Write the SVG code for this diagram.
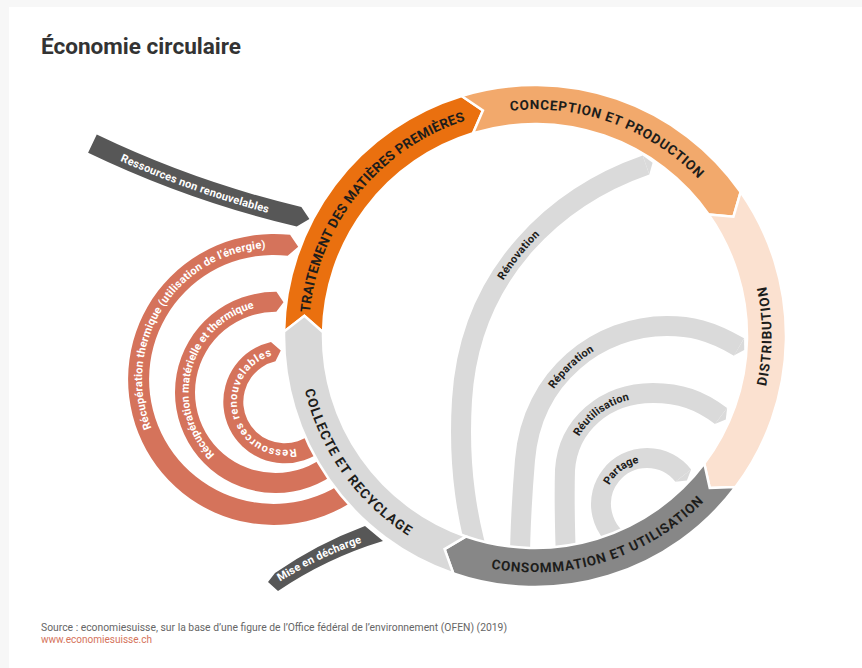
<svg xmlns="http://www.w3.org/2000/svg" width="862" height="668" viewBox="0 0 862 668">
<style>
.ring{stroke:#fff;stroke-width:2.5;stroke-linejoin:miter}
.rt{font-family:Roboto,'Liberation Sans',sans-serif;font-weight:700;font-size:13.5px;fill:#1d1d1b;letter-spacing:0.7px}
.wt{font-family:Roboto,'Liberation Sans',sans-serif;font-weight:700;font-size:11px;fill:#fff;letter-spacing:0.2px}
.lt{font-family:Roboto,'Liberation Sans',sans-serif;font-weight:700;font-size:11px;fill:#1d1d1b;letter-spacing:0.4px}
.loop{fill:none;stroke:#dadada;stroke-width:20}
.tip{fill:#dadada}
.org{fill:#d5735b}
.dark{fill:#575757}
.src{font-family:Roboto,'Liberation Sans',sans-serif;font-size:11px}
</style>
<defs>
<clipPath id="outside"><path clip-rule="evenodd" d="M0,0H862V668H0Z M535,104A232,232 0 1 0 535,568A232,232 0 1 0 535,104Z"/></clipPath>
<clipPath id="inside"><circle cx="535" cy="336" r="232"/></clipPath>
<path id="tp-trait" d="M308.53,339.95A226.5,226.5 0 0 1 491.78,113.66"/>
<path id="tp-conc" d="M457.53,123.16A226.5,226.5 0 0 1 731.16,222.75"/>
<path id="tp-dist" d="M716.17,488.02A236.5,236.5 0 0 0 716.17,183.98"/>
<path id="tp-cons" d="M444.50,554.50A236.5,236.5 0 0 0 734.46,463.07"/>
<path id="tp-coll" d="M299.23,317.44A236.5,236.5 0 0 0 475.79,564.97"/>
<path id="tp-o1" d="M171.41,462.16A131.5,131.5 0 0 1 298.69,250.32"/>
<path id="tp-o2" d="M240.91,472.18A87,87 0 0 1 280.91,305.56"/>
<path id="tp-o3" d="M308.8,443.37A48,48 0 1 1 286.48,353.83"/>
<path id="tp-res" d="M109.6,156.07A1021,1021 0 0 0 279.09,215.92"/>
<path id="tp-mise" d="M269.18,588.66A394,394 0 0 1 374.31,538.52"/>
<path id="tp-reno" d="M462,400C470,270 560,195 646,165"/>
<path id="tp-repa" d="M525,460C532,375 600,326 667,326"/>
<path id="tp-reut" d="M565,470C568,425 605,393 653,393"/>
<path id="tp-part" d="M601.06,501.59A46,46 0 0 1 657.35,459.18"/>
</defs>

<rect x="0" y="0" width="862" height="668" fill="#f7f7f7"/>
<rect x="9" y="7" width="853" height="661" fill="#fff"/>

<text x="41" y="54" font-family="Roboto,'Liberation Sans',sans-serif" font-weight="700" font-size="22" fill="#333" textLength="200" lengthAdjust="spacingAndGlyphs">Économie circulaire</text>

<g id="connectors">
  <g clip-path="url(#outside)">
    <path id="arc-thermique" class="org" d="M385.06,472.93A145.5,145.5 0 1 1 290.07,234.84L298.20,246.66L287.69,255.70A124.5,124.5 0 1 0 368.97,459.43Z"/>
    <path id="arc-materielle" class="org" d="M362.72,442.70A100.6,100.6 0 1 1 276.48,291.80L283.50,302.15L276.30,311.80A80.6,80.6 0 1 0 345.40,432.70Z"/>
    <path id="arc-renouvelables" class="org" d="M345.37,412.48A61.5,61.5 0 1 1 270.97,341.88L280.76,350.46L275.46,361.36A41.5,41.5 0 1 0 325.67,409.01Z"/>
  </g>
  <path id="arrow-nonrenouv" class="dark" d="M96.76,134.61A1007,1007 0 0 0 301.34,207.0L309.41,219.11L296.74,226.46A1027,1027 0 0 1 88.09,152.64Z"/>
  <path id="arrow-decharge" class="dark" d="M275,573A407,407 0 0 1 365,526L383,541A389,389 0 0 0 278,591L268,582Z"/>
  <g clip-path="url(#inside)">
    <path class="loop" d="M486,582C466,522 458,465 462,400C470,270 560,195 646,165"/>
    <path class="loop" d="M520,590C519,540 521.5,502 525,460C532,375 600,326 667,326C690,326 710,330 739,347"/>
    <path class="loop" d="M567,585C565,540 564,505 565,470C568,425 605,393 653,393C680,393 700,400 721,416"/>
    <path class="loop" d="M627.56,545.69A46,46 0 1 1 683.25,475.68"/>
  </g>
  <polygon class="tip" points="649.3,174.4 652.6,162.7 642.7,155.6"/>
  <polygon class="tip" points="733.9,355.6 744.2,350 744.1,338.4"/>
  <polygon class="tip" points="714.9,424 725.8,419.6 727.1,408"/>
  <polygon class="tip" points="675.4,481.8 686.9,480.4 691.1,469.5"/>

  <text class="wt"><textPath href="#tp-o1" startOffset="51%" text-anchor="middle">Récupération thermique (utilisation de l’énergie)</textPath></text>
  <text class="wt" style="letter-spacing:0px"><textPath href="#tp-o2" startOffset="51%" text-anchor="middle">Récupération matérielle et thermique</textPath></text>
  <text class="wt" style="letter-spacing:0.8px"><textPath href="#tp-o3" startOffset="50%" text-anchor="middle">Ressources renouvelables</textPath></text>
  <text class="wt"><textPath href="#tp-res" startOffset="50%" text-anchor="middle">Ressources non renouvelables</textPath></text>
  <text class="wt"><textPath href="#tp-mise" startOffset="50%" text-anchor="middle">Mise en décharge</textPath></text>
  <text class="lt" dy="4"><textPath href="#tp-reno" startOffset="50%" text-anchor="middle">Rénovation</textPath></text>
  <text class="lt" dy="4"><textPath href="#tp-repa" startOffset="50%" text-anchor="middle">Réparation</textPath></text>
  <text class="lt" dy="4"><textPath href="#tp-reut" startOffset="55%" text-anchor="middle">Réutilisation</textPath></text>
  <text class="lt" dy="4"><textPath href="#tp-part" startOffset="50%" text-anchor="middle">Partage</textPath></text>
</g>

<g id="node-traitement">
  <path class="ring" fill="#ea700f" d="M284.04,331.62A251,251 0 0 1 461.62,95.97L482.92,110.43L473.02,133.26A212,212 0 0 0 323.03,332.30L304.38,315.82Z"/>
  <text class="rt" style="letter-spacing:0.2px"><textPath href="#tp-trait" startOffset="50%" text-anchor="middle">TRAITEMENT DES MATIÈRES PREMIÈRES</textPath></text>
</g>
<g id="node-conception">
  <path class="ring" fill="#f2a96c" d="M461.62,95.97A251,251 0 0 1 740.61,192.03L733.43,216.77L708.66,214.40A212,212 0 0 0 473.02,133.26L482.92,110.43Z"/>
  <text class="rt"><textPath href="#tp-conc" startOffset="50%" text-anchor="middle">CONCEPTION ET PRODUCTION</textPath></text>
</g>
<g id="node-distribution">
  <path class="ring" fill="#fbe1d0" d="M740.61,192.03A251,251 0 0 1 735.46,487.06L709.72,487.88L704.31,463.59A212,212 0 0 0 708.66,214.40L733.43,216.77Z"/>
  <text class="rt" style="letter-spacing:0.9px"><textPath href="#tp-dist" startOffset="50%" text-anchor="middle">DISTRIBUTION</textPath></text>
</g>
<g id="node-consommation">
  <path class="ring" fill="#878787" d="M735.46,487.06A251,251 0 0 1 453.28,573.33L444.55,549.10L465.98,536.45A212,212 0 0 0 704.31,463.59L709.72,487.88Z"/>
  <text class="rt" style="letter-spacing:0.8px"><textPath href="#tp-cons" startOffset="50%" text-anchor="middle">CONSOMMATION ET UTILISATION</textPath></text>
</g>
<g id="node-collecte">
  <path class="ring" fill="#d9d9d9" d="M453.28,573.33A251,251 0 0 1 284.04,331.62L304.38,315.82L323.03,332.30A212,212 0 0 0 465.98,536.45L444.55,549.10Z"/>
  <text class="rt" style="letter-spacing:1px"><textPath href="#tp-coll" startOffset="50%" text-anchor="middle">COLLECTE ET RECYCLAGE</textPath></text>
</g>

<text class="src" x="41" y="631" fill="#666" textLength="466" lengthAdjust="spacingAndGlyphs">Source : economiesuisse, sur la base d’une figure de l’Office fédéral de l’environnement (OFEN) (2019)</text>
<text class="src" x="41" y="643" fill="#d5735b" textLength="111" lengthAdjust="spacingAndGlyphs">www.economiesuisse.ch</text>
</svg>
